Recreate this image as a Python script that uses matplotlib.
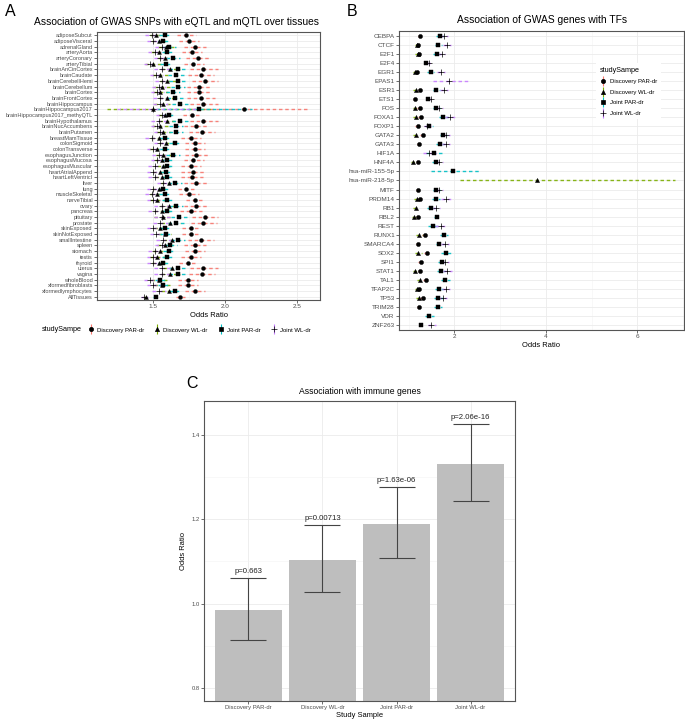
import numpy as np
import matplotlib
matplotlib.use('Agg')
import matplotlib.pyplot as plt
from matplotlib.lines import Line2D
from matplotlib.legend_handler import HandlerTuple

plt.rcParams['font.family'] = ['Liberation Sans', 'DejaVu Sans']

# ---- shared series info
series = ['Discovery PAR-dr', 'Discovery WL-dr', 'Joint PAR-dr', 'Joint WL-dr']
cols = ['#F8766D', '#7CAE00', '#00BFC4', '#C77CFF']
marks = ['o', '^', 's', '+']

# ---- panel A: odds ratios per tissue (CI given as multiplicative factor)
tissues = ['adiposeSubcut', 'adiposeVisceral', 'adrenalGland', 'arteryAorta', 'arteryCoronary',
           'arteryTibial', 'brainAnCinCortex', 'brainCaudate', 'brainCerebellHemi', 'brainCerebellum',
           'brainCortex', 'brainFrontCortex', 'brainHippocampus', 'brainHippocampus2017',
           'brainHippocampus2017_methyQTL', 'brainHypothalamus', 'brainNucAccumbens', 'brainPutamen',
           'breastMamTissue', 'colonSigmoid', 'colonTransverse', 'esophagusJunction', 'esophagusMucosa',
           'esophagusMuscular', 'heartAtrialAppend', 'heartLeftVentricl', 'liver', 'lung',
           'muscleSkeletal', 'nerveTibial', 'ovary', 'pancreas', 'pituitary', 'prostate', 'skinExposed',
           'skinNotExposed', 'smallIntestine', 'spleen', 'stomach', 'testis', 'thyroid', 'uterus',
           'vagina', 'wholeBlood', 'xformedfibroblasts', 'xformedlymphocytes', 'AllTissues']

a_dpar = [1.73, 1.75, 1.79, 1.77, 1.81, 1.78, 1.85, 1.83, 1.86, 1.82, 1.82, 1.83, 1.85, 2.13,
          1.77, 1.85, 1.80, 1.84, 1.76, 1.79, 1.79, 1.80, 1.78, 1.76, 1.78, 1.77, 1.80, 1.73,
          1.75, 1.79, 1.80, 1.76, 1.86, 1.85, 1.76, 1.76, 1.83, 1.79, 1.79, 1.76, 1.74, 1.85,
          1.84, 1.74, 1.74, 1.79, 1.69]
a_dwl = [1.52, 1.54, 1.59, 1.54, 1.58, 1.50, 1.62, 1.55, 1.60, 1.56, 1.55, 1.60, 1.57, 1.50,
         1.58, 1.60, 1.55, 1.57, 1.54, 1.59, 1.53, 1.57, 1.56, 1.57, 1.55, 1.56, 1.61, 1.54,
         1.53, 1.53, 1.61, 1.56, 1.57, 1.62, 1.55, 1.58, 1.63, 1.58, 1.55, 1.53, 1.54, 1.63,
         1.62, 1.54, 1.56, 1.61, 1.45]
a_jpar = [1.58, 1.57, 1.61, 1.60, 1.64, 1.59, 1.67, 1.66, 1.67, 1.67, 1.64, 1.65, 1.69, 1.82,
          1.61, 1.69, 1.66, 1.66, 1.58, 1.65, 1.58, 1.64, 1.60, 1.60, 1.59, 1.60, 1.65, 1.57,
          1.58, 1.60, 1.66, 1.60, 1.68, 1.66, 1.58, 1.59, 1.67, 1.62, 1.61, 1.60, 1.57, 1.67,
          1.67, 1.55, 1.57, 1.65, 1.52]
a_jwl = [1.49, 1.50, 1.56, 1.51, 1.55, 1.48, 1.56, 1.52, 1.56, 1.54, 1.53, 1.55, 1.55, 1.50,
         1.56, 1.54, 1.53, 1.55, 1.49, 1.55, 1.50, 1.54, 1.53, 1.51, 1.50, 1.51, 1.57, 1.50,
         1.49, 1.50, 1.56, 1.51, 1.56, 1.55, 1.50, 1.52, 1.57, 1.56, 1.51, 1.50, 1.50, 1.56,
         1.56, 1.48, 1.50, 1.54, 1.44]

a_dpar_ci = [1.040, 1.040, 1.045, 1.040, 1.045, 1.040, 1.055, 1.050, 1.050, 1.050, 1.050, 1.055,
             1.055, 1.210, 1.035, 1.055, 1.050, 1.050, 1.040, 1.040, 1.040, 1.045, 1.040, 1.040,
             1.050, 1.045, 1.050, 1.035, 1.040, 1.035, 1.050, 1.045, 1.050, 1.050, 1.035, 1.035,
             1.050, 1.045, 1.040, 1.040, 1.035, 1.055, 1.050, 1.040, 1.040, 1.040, 1.020]
a_dwl_ci = [1.030, 1.030, 1.035, 1.035, 1.030, 1.040, 1.040, 1.040, 1.035, 1.035, 1.035, 1.040,
            1.040, 1.270, 1.030, 1.040, 1.040, 1.035, 1.035, 1.030, 1.040, 1.035, 1.030, 1.030,
            1.035, 1.030, 1.035, 1.030, 1.035, 1.035, 1.040, 1.035, 1.040, 1.040, 1.030, 1.030,
            1.040, 1.035, 1.035, 1.035, 1.030, 1.040, 1.040, 1.035, 1.035, 1.035, 1.015]
a_jpar_ci = [1.025, 1.025, 1.030, 1.025, 1.030, 1.025, 1.035, 1.035, 1.035, 1.030, 1.030, 1.035,
             1.035, 1.200, 1.025, 1.035, 1.030, 1.030, 1.025, 1.025, 1.025, 1.030, 1.025, 1.025,
             1.025, 1.025, 1.030, 1.025, 1.025, 1.025, 1.030, 1.025, 1.035, 1.035, 1.025, 1.025,
             1.030, 1.030, 1.025, 1.025, 1.025, 1.035, 1.035, 1.025, 1.025, 1.025, 1.012]
a_jwl_ci = [1.030, 1.030, 1.030, 1.030, 1.030, 1.030, 1.035, 1.030, 1.030, 1.030, 1.030, 1.035,
            1.035, 1.200, 1.025, 1.035, 1.030, 1.030, 1.030, 1.030, 1.030, 1.030, 1.030, 1.030,
            1.030, 1.030, 1.030, 1.030, 1.030, 1.030, 1.035, 1.030, 1.035, 1.035, 1.030, 1.030,
            1.035, 1.030, 1.030, 1.030, 1.030, 1.035, 1.035, 1.030, 1.030, 1.030, 1.015]

# ---- panel B: odds ratios per TF
nan = np.nan
tfs = ['CEBPA', 'CTCF', 'E2F1', 'E2F4', 'EGR1', 'EPAS1', 'ESR1', 'ETS1', 'FOS', 'FOXA1', 'FOXP1',
       'GATA2', 'GATA3', 'HIF1A', 'HNF4A', 'hsa-miR-155-5p', 'hsa-miR-218-5p', 'MITF', 'PRDM14',
       'RB1', 'RBL2', 'REST', 'RUNX1', 'SMARCA4', 'SOX2', 'SPI1', 'STAT1', 'TAL1', 'TFAP2C', 'TP53',
       'TRIM28', 'VDR', 'ZNF263']

b_dpar = [1.25, 1.21, 1.235, nan, 1.18, nan, 1.25, 1.14, 1.25, 1.26, 1.20, 1.31, 1.235, nan, 1.21,
          nan, nan, 1.21, 1.25, nan, 1.21, nan, 1.36, 1.21, 1.40, 1.27, 1.25, 1.38, 1.23, 1.32,
          1.23, nan, nan]
b_dwl = [nan, 1.19, 1.20, nan, 1.14, nan, 1.16, nan, 1.14, 1.16, nan, 1.16, nan, nan, 1.10,
         nan, 3.81, nan, 1.19, 1.16, 1.12, nan, 1.235, nan, 1.21, nan, 1.15, 1.25, 1.19, 1.22,
         nan, nan, nan]
b_jpar = [1.69, 1.65, 1.61, 1.38, 1.48, nan, 1.60, 1.43, 1.60, 1.76, 1.45, 1.76, 1.69, 1.555, 1.59,
          1.96, nan, 1.60, 1.60, 1.48, 1.61, 1.53, 1.78, 1.67, 1.82, 1.72, 1.71, 1.80, 1.66, 1.65,
          1.64, 1.45, 1.28]
b_jwl = [1.77, 1.83, 1.72, 1.45, 1.71, 1.89, 1.77, 1.48, 1.67, 1.90, 1.41, 1.82, 1.82, 1.45, 1.67,
         nan, nan, 1.67, 1.82, 1.60, nan, 1.70, nan, 1.80, nan, 1.80, 1.85, nan, 1.82, 1.745,
         nan, nan, 1.50]

b_dpar_ci = [1.04, 1.04, 1.04, nan, 1.05, nan, 1.04, 1.04, 1.05, 1.05, 1.05, 1.05, 1.04, nan, 1.05,
             nan, nan, 1.04, 1.05, nan, 1.04, nan, 1.05, 1.04, 1.05, 1.05, 1.04, 1.05, 1.04, 1.05,
             1.04, nan, nan]
b_dwl_ci = [nan, 1.05, 1.05, nan, 1.05, nan, 1.05, nan, 1.05, 1.05, nan, 1.05, nan, nan, 1.05,
            nan, 1.79, nan, 1.06, 1.05, 1.05, nan, 1.06, nan, 1.06, nan, 1.05, 1.06, 1.05, 1.06,
            nan, nan, nan]
b_jpar_ci = [1.05, 1.05, 1.05, 1.04, 1.05, nan, 1.05, 1.04, 1.05, 1.06, 1.05, 1.05, 1.05, 1.12,
             1.05, 1.32, nan, 1.05, 1.06, 1.05, 1.04, 1.08, 1.05, 1.05, 1.06, 1.05, 1.05, 1.06,
             1.05, 1.06, 1.05, 1.07, 1.05]
b_jwl_ci = [1.05, 1.05, 1.05, 1.04, 1.05, 1.23, 1.05, 1.04, 1.05, 1.06, 1.05, 1.05, 1.05, 1.10,
            1.05, nan, nan, 1.05, 1.06, 1.05, nan, 1.08, nan, 1.05, nan, 1.05, 1.05, nan, 1.05,
            1.06, nan, nan, 1.06]

# ---- panel C: immune genes
c_groups = ['Discovery PAR-dr', 'Discovery WL-dr', 'Joint PAR-dr', 'Joint WL-dr']
c_or = [0.985, 1.104, 1.188, 1.330]
c_lo = [0.914, 1.028, 1.108, 1.243]
c_hi = [1.060, 1.186, 1.275, 1.425]
c_p = ['p=0.663', 'p=0.00713', 'p=1.63e-06', 'p=2.06e-16']

W, H = 685, 720
fig = plt.figure(figsize=(W / 100, H / 100), dpi=100)


def box(l, t, r, b):
    return [l / W, 1 - b / H, (r - l) / W, (b - t) / H]


def theme_bw(ax):
    ax.set_facecolor('white')
    for s in ax.spines.values():
        s.set_color('#555555')
        s.set_linewidth(0.8)
    ax.tick_params(which='major', length=2, width=0.5, color='#333333', labelcolor='#4d4d4d', pad=1.0)
    ax.tick_params(which='minor', length=0)
    ax.grid(which='major', color='#ebebeb', lw=0.6)
    ax.grid(which='minor', color='#f3f3f3', lw=0.4)
    ax.set_axisbelow(True)


def forest(ax, labels, vals, cis, ms, fs):
    n = len(labels)
    y = np.arange(n)[::-1]
    for v, f, c in zip(vals, cis, cols):
        v = np.asarray(v, float)
        f = np.asarray(f, float)
        ok = ~np.isnan(v)
        ax.hlines(y[ok], v[ok] / f[ok], v[ok] * f[ok], colors=c, linestyles=(0, (2.5, 2.0)),
                  lw=1.0, alpha=0.9)
    for v, m in zip(vals, marks):
        ax.plot(v, y, linestyle='none', marker=m, color='black', ms=ms * (1.3 if m == '+' else 1),
                mew=0.5 if m == '+' else 0.3)
    ax.set_yticks(y)
    ax.set_yticklabels(labels, fontsize=fs)
    ax.set_ylim(-0.6, n - 0.4)


def legend_handles():
    hs = []
    for c, m in zip(cols, marks):
        bar = Line2D([], [], marker='|', color=c, ms=7, mew=0.8, linestyle='none')
        pt = Line2D([], [], marker=m, color='black', ms=3 if m != '+' else 4, mew=0.5, linestyle='none')
        hs.append((bar, pt))
    return hs


# ---- A
axa = fig.add_axes(box(97, 32, 320, 300))
theme_bw(axa)
forest(axa, tissues, [a_dpar, a_dwl, a_jpar, a_jwl], [a_dpar_ci, a_dwl_ci, a_jpar_ci, a_jwl_ci], 2.8, 4.0)
axa.set_xlim(1.11, 2.66)
axa.set_xticks([1.5, 2.0, 2.5])
axa.set_xticklabels(['1.5', '2.0', '2.5'], fontsize=4.6)
axa.set_xticks([1.25, 1.75, 2.25], minor=True)
axa.set_xlabel('Odds Ratio', fontsize=5.4, labelpad=2)
fig.text(177 / W, 1 - 22 / H, 'Association of GWAS SNPs with eQTL and mQTL over tissues',
         ha='center', va='center', fontsize=7.4)
fig.text(5 / W, 1 - 12 / H, 'A', fontsize=11.5, va='center')
fig.legend(legend_handles(), series, loc='center left', bbox_to_anchor=(82 / W, 1 - 330 / H),
           ncol=4, frameon=False, fontsize=4.3, handlelength=1.2, columnspacing=1.6,
           handletextpad=0.4, handler_map={tuple: HandlerTuple(ndivide=1)})
fig.text(42 / W, 1 - 330 / H, 'studySampe', fontsize=5.2, va='center')

# ---- B
axb = fig.add_axes(box(399, 31, 684, 330))
theme_bw(axb)
forest(axb, tfs, [b_dpar, b_dwl, b_jpar, b_jwl], [b_dpar_ci, b_dwl_ci, b_jpar_ci, b_jwl_ci], 3.0, 4.6)
axb.set_xlim(0.79, 7.02)
axb.set_xticks([2, 4, 6])
axb.set_xticklabels(['2', '4', '6'], fontsize=4.6)
axb.set_xticks([1, 3, 5, 7], minor=True)
axb.set_xlabel('Odds Ratio', fontsize=5.4, labelpad=2)
fig.text(542 / W, 1 - 20 / H, 'Association of GWAS genes with TFs', ha='center', va='center', fontsize=7.4)
fig.text(347 / W, 1 - 12 / H, 'B', fontsize=11.5, va='center')
lg = axb.legend(legend_handles(), series, loc='upper left', bbox_to_anchor=(593 / W, 1 - 60 / H),
                bbox_transform=fig.transFigure, title='studySampe', alignment='left',
                fontsize=4.3, title_fontsize=5.2, frameon=True, facecolor='white', edgecolor='none',
                framealpha=1, fancybox=False, handlelength=1.2, handletextpad=0.6, labelspacing=0.9,
                borderpad=0.6, handler_map={tuple: HandlerTuple(ndivide=1)})

# ---- C
axc = fig.add_axes(box(204, 401, 515, 701))
theme_bw(axc)
x = np.arange(1, len(c_groups) + 1)
or_ = np.array(c_or)
axc.bar(x, or_, width=0.9, color='#bebebe', zorder=2)
axc.errorbar(x, or_, yerr=[or_ - np.array(c_lo), np.array(c_hi) - or_], fmt='none',
             ecolor='#444444', elinewidth=0.8, capsize=13, capthick=0.8, zorder=3)
for xi, hi, lab in zip(x, c_hi, c_p):
    axc.text(xi, hi + 0.008, lab, ha='center', va='bottom', fontsize=5.6, color='#222222', zorder=4)
axc.set_xlim(0.4, 4.6)
axc.set_ylim(0.769, 1.48)
axc.set_xticks(x)
axc.set_xticklabels(c_groups, fontsize=4.2)
axc.set_yticks([0.8, 1.0, 1.2, 1.4])
axc.set_yticklabels(['0.8', '1.0', '1.2', '1.4'], fontsize=4.2)
axc.set_yticks([0.9, 1.1, 1.3], minor=True)
axc.set_xlabel('Study Sample', fontsize=5.4, labelpad=1)
axc.set_ylabel('Odds Ratio', fontsize=5.4, labelpad=3)
fig.text(360 / W, 1 - 392 / H, 'Association with immune genes', ha='center', va='center', fontsize=6.2)
fig.text(186 / W, 1 - 384 / H, 'C', fontsize=11.5, va='center')

fig.savefig('out.png', dpi=100)
